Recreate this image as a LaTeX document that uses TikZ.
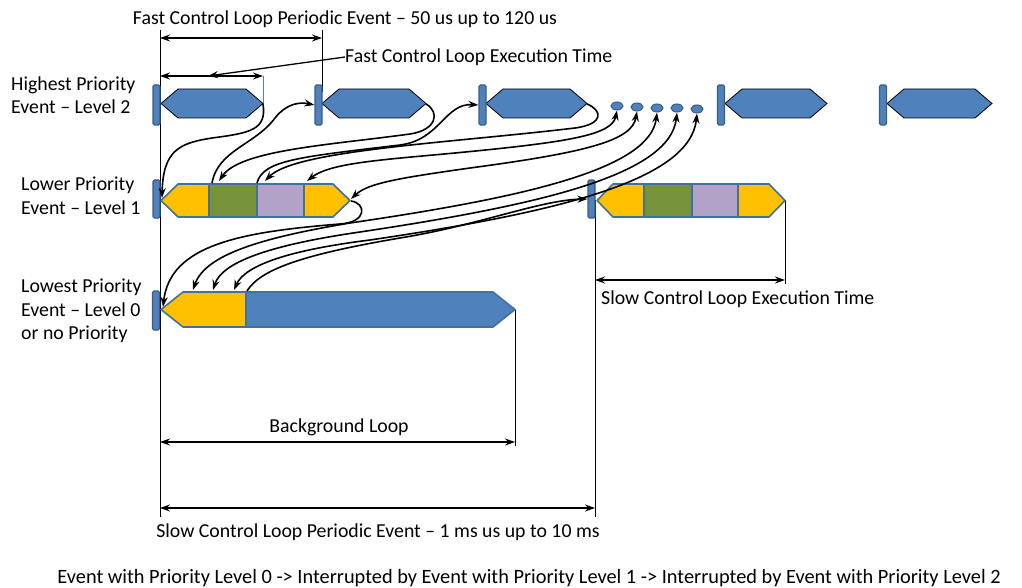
\documentclass[tikz,border=0pt]{standalone}
\usepackage{fontspec}
\setmainfont{Carlito}
\usetikzlibrary{arrows.meta,shapes.geometric}
\definecolor{evblue}{HTML}{4F81BD}
\definecolor{evedge}{HTML}{385D8A}
\definecolor{segedge}{HTML}{41719C}
\definecolor{evyellow}{HTML}{FFC000}
\definecolor{evgreen}{HTML}{77933C}
\definecolor{evpurple}{HTML}{B3A2C7}
\begin{document}
\begin{tikzpicture}[x=1pt,y=-1pt,
  lbl/.style={font=\fontsize{19.8}{23.5}\selectfont, inner sep=0pt, align=left},
  flow/.style={line width=1.6pt, -{Stealth[length=10pt,width=7pt]}},
  flowtwo/.style={line width=1.6pt, {Stealth[length=10pt,width=7pt]}-{Stealth[length=10pt,width=7pt]}},
  dimline/.style={line width=1.3pt, {Stealth[length=10pt,width=7pt]}-{Stealth[length=10pt,width=7pt]}},
  guide/.style={line width=0.9pt},
  evbar/.style={fill=evblue, draw=evedge, line width=1.2pt, rounded corners=1.5pt, minimum width=7pt, inner sep=0pt},
  fasthex/.style={fill=evblue, draw=black, line width=0.8pt},
  seg/.style={draw=segedge, line width=1.6pt, line join=round},
  dotev/.style={ellipse, fill=evblue, draw=evedge, line width=1pt, minimum width=12pt, minimum height=8pt, inner sep=0pt}]
\useasboundingbox (0,0) rectangle (1022,588);

% guide lines
\draw[guide] (160,30) -- (160,517);
\draw[guide] (322,30) -- (322,92);
\draw[guide] (515,310) -- (515,446);
\draw[guide] (595,200) -- (595,517);
\draw[guide] (785,200) -- (785,284);
\draw[evblue, line width=0.8pt] (263,76) -- (263,104);

% level 2 hexagons
\foreach \l/\r in {161/263, 322/426, 486/587, 725/827, 887/992}{
  \draw[fasthex] (\l,103.5) -- (\l+17,89) -- (\r-17,89) -- (\r,103.5) -- (\r-17,118) -- (\l+17,118) -- cycle;
}

% level 1 first
\path[seg, fill=evyellow] (161,200.5) -- (178,184) -- (209,184) -- (209,217) -- (178,217) -- cycle;
\path[seg, fill=evgreen] (209,184) rectangle (257,217);
\path[seg, fill=evpurple] (257,184) rectangle (304,217);
\path[seg, fill=evyellow] (304,184) -- (333,184) -- (350,200.5) -- (333,217) -- (304,217) -- cycle;
% level 1 second
\path[seg, fill=evyellow] (597,200.5) -- (613,184) -- (644,184) -- (644,217) -- (613,217) -- cycle;
\path[seg, fill=evgreen] (644,184) rectangle (692,217);
\path[seg, fill=evpurple] (692,184) rectangle (738,217);
\path[seg, fill=evyellow] (738,184) -- (769,184) -- (785,200.5) -- (769,217) -- (738,217) -- cycle;
% level 0
\path[seg, fill=evyellow] (161,309.5) -- (183,292) -- (246,292) -- (246,327) -- (183,327) -- cycle;
\path[seg, fill=evblue] (246,292) -- (493,292) -- (515,309.5) -- (493,327) -- (246,327) -- cycle;

% bars
\node[evbar, minimum height=40pt] (b1) at (156.5,105) {};
\node[evbar, minimum height=40pt] (b2) at (318.5,105) {};
\node[evbar, minimum height=40pt] (b3) at (482.5,105) {};
\node[evbar, minimum height=40pt] (b4) at (721,105) {};
\node[evbar, minimum height=40pt] (b5) at (883,105) {};
\node[evbar, minimum height=38pt] (m1) at (156.5,199) {};
\node[evbar, minimum height=38pt] (m2) at (591.5,199) {};
\node[evbar, minimum height=39pt] (z1) at (156,310.5) {};

% ellipses
\node[dotev] (e1) at (617,106) {};
\node[dotev] (e2) at (637,107) {};
\node[dotev] (e3) at (657,108) {};
\node[dotev] (e4) at (677,108) {};
\node[dotev] (e5) at (697,109) {};

% named points
\coordinate (h1tip) at (263,104);
\coordinate (h2tip) at (426,104);
\coordinate (h3tip) at (587,104);
\coordinate (l1start) at (162,198);
\coordinate (l1green) at (212,183);
\coordinate (l1greenin) at (219,181);
\coordinate (l1purple) at (257,183);
\coordinate (l1purplein) at (265,181);
\coordinate (l1yellow) at (307,181);
\coordinate (l1tip) at (351,199);
\coordinate (l1tipout) at (351,201);
\coordinate (l0start) at (163,307);
\coordinate (l0a) at (193,290);
\coordinate (l0b) at (213,290);
\coordinate (l0c) at (234,290);
\coordinate (l0blue) at (247,291);

% curves
\draw[flow] (h1tip) .. controls (267,130) and (250,133) .. (212,138) .. controls (180,143) and (163,150) .. (l1start);
\draw[flow] (l1green) .. controls (218,150) and (255,145) .. (275,118) .. controls (287,103) and (300,102) .. (b2.west);
\draw[flow] (h2tip) .. controls (440,112) and (437,130) .. (410,134) .. controls (330,145) and (240,150) .. (l1greenin);
\draw[flow] (l1purple) .. controls (263,160) and (300,157) .. (400,145) .. controls (440,140) and (445,103) .. (b3.west);
\draw[flow] (h3tip) .. controls (602,110) and (605,124) .. (575,128) .. controls (450,143) and (295,150) .. (l1purplein);
\draw[flowtwo] (l1yellow) .. controls (330,163) and (380,160) .. (455,153) .. controls (570,142) and (612,135) .. (e1.south);
\draw[flowtwo] (l1tip) .. controls (368,183) and (400,178) .. (470,168) .. controls (590,152) and (632,140) .. (e2.south);
\draw[flow] (l1tipout) .. controls (366,203) and (368,222) .. (340,224) .. controls (240,232) and (170,245) .. (l0start);
\draw[flowtwo] (l0a) .. controls (205,255) and (260,238) .. (350,223) .. controls (520,198) and (650,170) .. (e3.south);
\draw[flowtwo] (l0b) .. controls (222,262) and (270,245) .. (360,232) .. controls (540,205) and (670,175) .. (e4.south);
\draw[flowtwo] (l0c) .. controls (245,265) and (290,250) .. (370,240) .. controls (560,212) and (690,180) .. (e5.south);
\draw[flow] (l0blue) .. controls (260,270) and (300,255) .. (400,238) .. controls (480,225) and (540,200) .. (m2.west);

% dimension arrows
\coordinate (d1a) at (160,38); \coordinate (d1b) at (322,38);
\coordinate (d2a) at (160,76); \coordinate (d2b) at (263,76);
\coordinate (d3a) at (160,442); \coordinate (d3b) at (515,442);
\coordinate (d4a) at (160,508); \coordinate (d4b) at (595,508);
\coordinate (d5a) at (595,280); \coordinate (d5b) at (785,280);
\draw[dimline] (d1a) -- (d1b);
\draw[dimline] (d2a) -- (d2b);
\draw[dimline] (d3a) -- (d3b);
\draw[dimline] (d4a) -- (d4b);
\draw[dimline] (d5a) -- (d5b);

% texts
\node[lbl] (tfast) at (345,19) {Fast Control Loop Periodic Event – 50 us up to 120 us};
\node[lbl, anchor=west] (texec) at (345,57) {Fast Control Loop Execution Time};
\coordinate (leadend) at (208,76);
\draw[line width=1.3pt, -{Stealth[length=10pt,width=7pt]}] (texec.west) -- (leadend);
\node[lbl, anchor=west] (thigh) at (11,95) {Highest Priority\\Event – Level 2};
\node[lbl, anchor=west] (tlower) at (21,196) {Lower Priority\\Event – Level 1};
\node[lbl, anchor=west] (tlowest) at (21,311) {Lowest Priority\\Event – Level 0\\or no Priority};
\node[lbl] (tbg) at (339,427) {Background Loop};
\node[lbl] (tslowp) at (378,532) {Slow Control Loop Periodic Event – 1 ms us up to 10 ms};
\node[lbl, anchor=west] (tslowe) at (601,299) {Slow Control Loop Execution Time};
\node[lbl, font=\fontsize{20.35}{24}\selectfont] (tcap) at (529,578) {Event with Priority Level 0 -> Interrupted by Event with Priority Level 1 -> Interrupted by Event with Priority Level 2};
\end{tikzpicture}
\end{document}
